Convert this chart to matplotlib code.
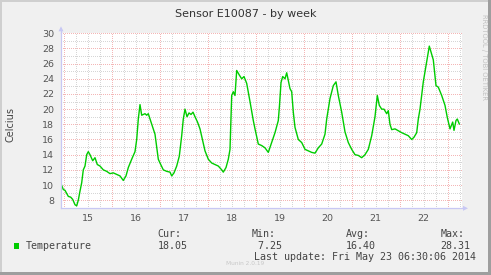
import matplotlib
matplotlib.use("Agg")
import matplotlib.pyplot as plt
from matplotlib.patches import Rectangle, Polygon

# Temperature readings, hours counted from May 14 00:00
hours = [
    23.1, 23.9, 24.75, 26.4, 27.6, 28.6, 29.75, 30.6, 31.4, 32.25, 33.1, 33.9,
    34.75, 35.6, 36.4, 37.25, 38.6, 39.75, 40.9, 42.25, 43.9, 45.6, 47.25,
    48.9, 50.6, 52.25, 53.9, 55.25, 56.4, 58.1, 59.75, 60.6, 61.4, 62.25, 63.1,
    64.75, 65.6, 66.4, 67.25, 68.75, 69.75, 71.4,
    72.25, 73.9, 75.6, 77.25, 78.1, 79.25, 80.6, 81.9, 83.1, 83.9, 84.75, 85.75,
    86.75, 87.75, 88.75, 89.75, 91.0, 92.25, 94.75,
    96.4, 98.1, 99.75, 101.4, 103.1, 103.9, 105.25, 106.4, 107.25, 107.75, 108.1,
    108.9, 109.75, 110.6, 111.9, 113.1, 114.25, 115.6, 117.25, 118.9,
    119.75, 121.4, 123.1, 124.75, 126.4, 128.1, 129.75, 131.4, 132.0, 132.75,
    133.6, 134.75, 135.6, 136.4, 137.25, 138.1, 138.9, 139.75, 141.4, 143.1,
    144.75, 146.4, 148.1, 149.75, 151.4, 153.1, 154.75, 155.6, 157.25, 158.9,
    160.25, 161.4, 163.1, 164.75, 166.4,
    168.1, 169.75, 171.4, 173.1, 174.75, 176.4, 178.1, 179.75, 180.9, 181.9,
    183.1, 184.25, 185.6, 186.4, 187.25, 188.1, 189.75,
    191.4, 193.1, 194.75, 196.4, 198.1, 199.25, 200.6, 201.4, 202.25, 203.9,
    205.6, 206.9, 208.1, 208.9, 210.25, 211.4, 213.1, 214.75, 215.9, 217.25,
    218.6, 219.25, 220.25, 220.9, 221.9,
]
temps = [
    9.95, 9.4, 9.3, 8.5, 8.4, 8.1, 7.4, 7.25, 8.0, 9.2, 10.3, 12.0,
    12.5, 14.0, 14.4, 14.0, 13.2, 13.6, 12.7, 12.5, 12.0, 11.8, 11.5,
    11.6, 11.4, 11.2, 10.6, 11.2, 12.3, 13.4, 14.4, 16.0, 18.7, 20.6, 19.2,
    19.4, 19.2, 19.4, 18.7, 17.5, 16.7, 13.4,
    12.9, 12.0, 11.8, 11.7, 11.2, 11.6, 12.5, 13.8, 16.5, 18.7, 20.0, 19.0,
    19.5, 19.3, 19.6, 19.0, 18.3, 17.4, 14.5,
    13.4, 12.9, 12.7, 12.5, 12.0, 11.7, 12.3, 13.4, 14.7, 18.7, 21.8,
    22.3, 21.8, 25.1, 24.5, 24.0, 24.3, 23.4, 21.0, 18.5,
    17.4, 15.4, 15.2, 14.9, 14.3, 15.6, 16.9, 18.5, 20.5, 23.5,
    24.3, 24.0, 24.8, 23.8, 22.7, 22.3, 19.6, 17.6, 16.0, 15.6,
    14.7, 14.5, 14.3, 14.2, 14.9, 15.4, 16.7, 18.7, 21.4, 23.1,
    23.6, 21.8, 19.6, 17.0, 15.6,
    14.7, 14.0, 13.9, 13.6, 14.0, 14.7, 16.5, 19.0, 21.8, 20.5,
    20.0, 20.0, 19.4, 19.8, 18.0, 17.3, 17.4,
    17.15, 16.9, 16.7, 16.5, 16.0, 16.3, 16.9, 18.7, 20.0, 23.6,
    26.3, 28.31, 27.2, 26.5, 23.1, 22.9, 21.8, 20.5, 18.9, 17.4,
    18.3, 17.2, 18.5, 18.7, 18.05,
]
day_labels = ["15", "16", "17", "18", "19", "20", "21", "22"]
y_labels = [8, 10, 12, 14, 16, 18, 20, 22, 24, 26, 28, 30]
stat_names = ["Cur:", "Min:", "Avg:", "Max:"]
stat_values = ["18.05", " 7.25", "16.40", "28.31"]

W, H = 491, 275
fig = plt.figure(figsize=(W / 100, H / 100), dpi=100)
fig.patch.set_facecolor("#F0F0F0")

# frame and free text drawn in pixel coordinates
bg = fig.add_axes([0, 0, 1, 1])
bg.set_xlim(0, W)
bg.set_ylim(H, 0)
bg.axis("off")
bg.add_patch(Rectangle((0, 0), W, 2, color="#CFCFCF", lw=0))
bg.add_patch(Rectangle((0, 0), 2, H, color="#CFCFCF", lw=0))
bg.add_patch(Rectangle((0, H - 3), W, 3, color="#9E9E9E", lw=0))
bg.add_patch(Rectangle((W - 3, 0), 3, H, color="#9E9E9E", lw=0))

# plot area
px_l, px_r, px_t, px_b = 61, 462, 33.3, 208.3
ax = fig.add_axes([px_l / W, 1 - px_b / H, (px_r - px_l) / W, (px_b - px_t) / H])
ax.set_facecolor("white")
ax.set_xlim(22.75, 223.25)
ax.set_ylim(6.93, 30)

# rrdtool style dotted grid, drawn crisp
mgrid = "#F4B6B6"
sgrid = "#D6D6D6"
for h in range(24, 224, 6):
    if h % 24:
        ax.axvline(h, color=sgrid, lw=0.72, ls=(0, (1, 2)), zorder=1, antialiased=False)
for v in range(7, 30, 2):
    ax.axhline(v, color=sgrid, lw=0.72, ls=(0, (1, 2)), zorder=1, antialiased=False)
for h in range(24, 224, 24):
    ax.axvline(h, color=mgrid, lw=0.72, ls=(0, (1, 1.5)), zorder=2, antialiased=False)
for v in y_labels:
    ax.axhline(v, color=mgrid, lw=0.72, ls=(0, (1, 1.5)), zorder=2, antialiased=False)

ax.plot(hours, temps, color="#00CC00", lw=1.0, zorder=5)

ax.set_xticks([36 + 24 * i for i in range(len(day_labels))])
ax.set_xticklabels(day_labels)
ax.set_yticks(y_labels)
ax.set_yticklabels([str(v) for v in y_labels])
ax.tick_params(length=0, labelsize=6.8, labelcolor="#555555")
ax.tick_params(axis="y", pad=5)
ax.tick_params(axis="x", pad=4)
for s in ["top", "right"]:
    ax.spines[s].set_visible(False)
axis_col = "#C8C8F4"
for s in ["left", "bottom"]:
    ax.spines[s].set_color(axis_col)
    ax.spines[s].set_linewidth(0.9)
    ax.spines[s].set_zorder(6)

# axis arrows
bg.plot([px_l, px_l], [px_t, px_t - 3], color=axis_col, lw=0.9)
bg.add_patch(Polygon([(px_l - 2.5, px_t - 2), (px_l + 2.5, px_t - 2), (px_l, px_t - 7)],
                     color=axis_col, lw=0))
bg.add_patch(Polygon([(px_r + 1, px_b - 2.5), (px_r + 1, px_b + 2.5), (px_r + 6, px_b)],
                     color=axis_col, lw=0))

# texts
bg.text(245.5, 14, "Sensor E10087 - by week", ha="center", va="center",
        fontsize=8, color="#333333")
bg.text(11, 125, "Celcius", rotation=90, ha="center", va="center",
        fontsize=7, color="#444444")
bg.text(484, 14, "RRDTOOL / TOBI OETIKER", rotation=-90, ha="center", va="top",
        fontsize=4.9, color="#C0C0C0")

mono = "DejaVu Sans Mono"
bg.add_patch(Rectangle((14, 243), 5.5, 5.5, color="#00CC00", lw=0))
bg.text(26, 245.7, "Temperature", ha="left", va="center", family=mono,
        fontsize=7.2, color="#444444")
for name, val, x in zip(stat_names, stat_values, [157.7, 251.7, 346, 440.7]):
    bg.text(x, 234, name, ha="left", va="center", family=mono,
            fontsize=7.2, color="#444444")
    bg.text(x, 245.7, val, ha="left", va="center", family=mono,
            fontsize=7.2, color="#444444")
bg.text(476.5, 256.7, "Last update: Fri May 23 06:30:06 2014", ha="right",
        va="center", family=mono, fontsize=7.2, color="#444444")
bg.text(245, 263.5, "Munin 2.0.19", ha="center", va="center",
        fontsize=4.2, color="#C8C8C8")

fig.savefig("out.png", dpi=100, facecolor=fig.get_facecolor())
